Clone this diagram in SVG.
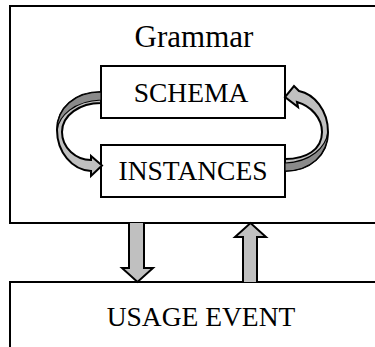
<svg xmlns="http://www.w3.org/2000/svg" width="375" height="347" viewBox="0 0 375 347">
<style>
.box{fill:#fff;stroke:#000;stroke-width:2}
.t{font-family:"Liberation Serif","Times New Roman",serif;fill:#000;text-anchor:middle}
.arr{fill:#c0c0c0;stroke:#000;stroke-width:2;stroke-linejoin:miter}
.dark{fill:#8a8a8a;stroke:#000;stroke-width:1.2}
</style>
<rect width="375" height="347" fill="#fff"/>
<g id="grammar">
<rect class="box" x="10" y="6" width="380" height="217"/>
<text class="t" x="194" y="47" font-size="31">Grammar</text>
</g>
<g id="usage-event">
<rect class="box" x="10" y="282" width="380" height="100"/>
<text class="t" x="201" y="326" font-size="27.5">USAGE EVENT</text>
</g>
<g id="schema">
<rect class="box" x="101" y="66" width="184" height="52"/>
<text class="t" x="191" y="102" font-size="27.5">SCHEMA</text>
</g>
<g id="instances">
<rect class="box" x="101" y="145" width="184" height="52"/>
<text class="t" x="193" y="180" font-size="27.5">INSTANCES</text>
</g>
<g id="connectors">
<path class="arr" d="M101,92 C75,92 57,108 57,130 C57,152 72,170 91,171 L91,176 L102,165.5 L91,156 L91,160 C76,160 62,148 62,132 C62,115 80,103 101,103 Z"/>
<path class="dark" d="M101,92 C75,92 57,108 57,130 C59,116 74,101 101,100 Z"/>
<path class="arr" d="M285,171 C310,171 328,155 328,132 C328,110 314,94 299,91 L294,86 L285,97 L298,107 L297,102 C311,106 322,118 322,132 C322,150 306,159 285,159 Z"/>
<path class="dark" d="M285,171 C310,171 328,155 328,132 C326,147 311,162 285,163 Z"/>
<path class="arr" d="M129,223 L129,268 L122,268 L137.5,282 L153,268 L144,268 L144,223"/>
<path class="arr" d="M243,282 L243,237 L235,237 L250.5,223 L266,237 L257,237 L257,282"/>
</g>
</svg>
